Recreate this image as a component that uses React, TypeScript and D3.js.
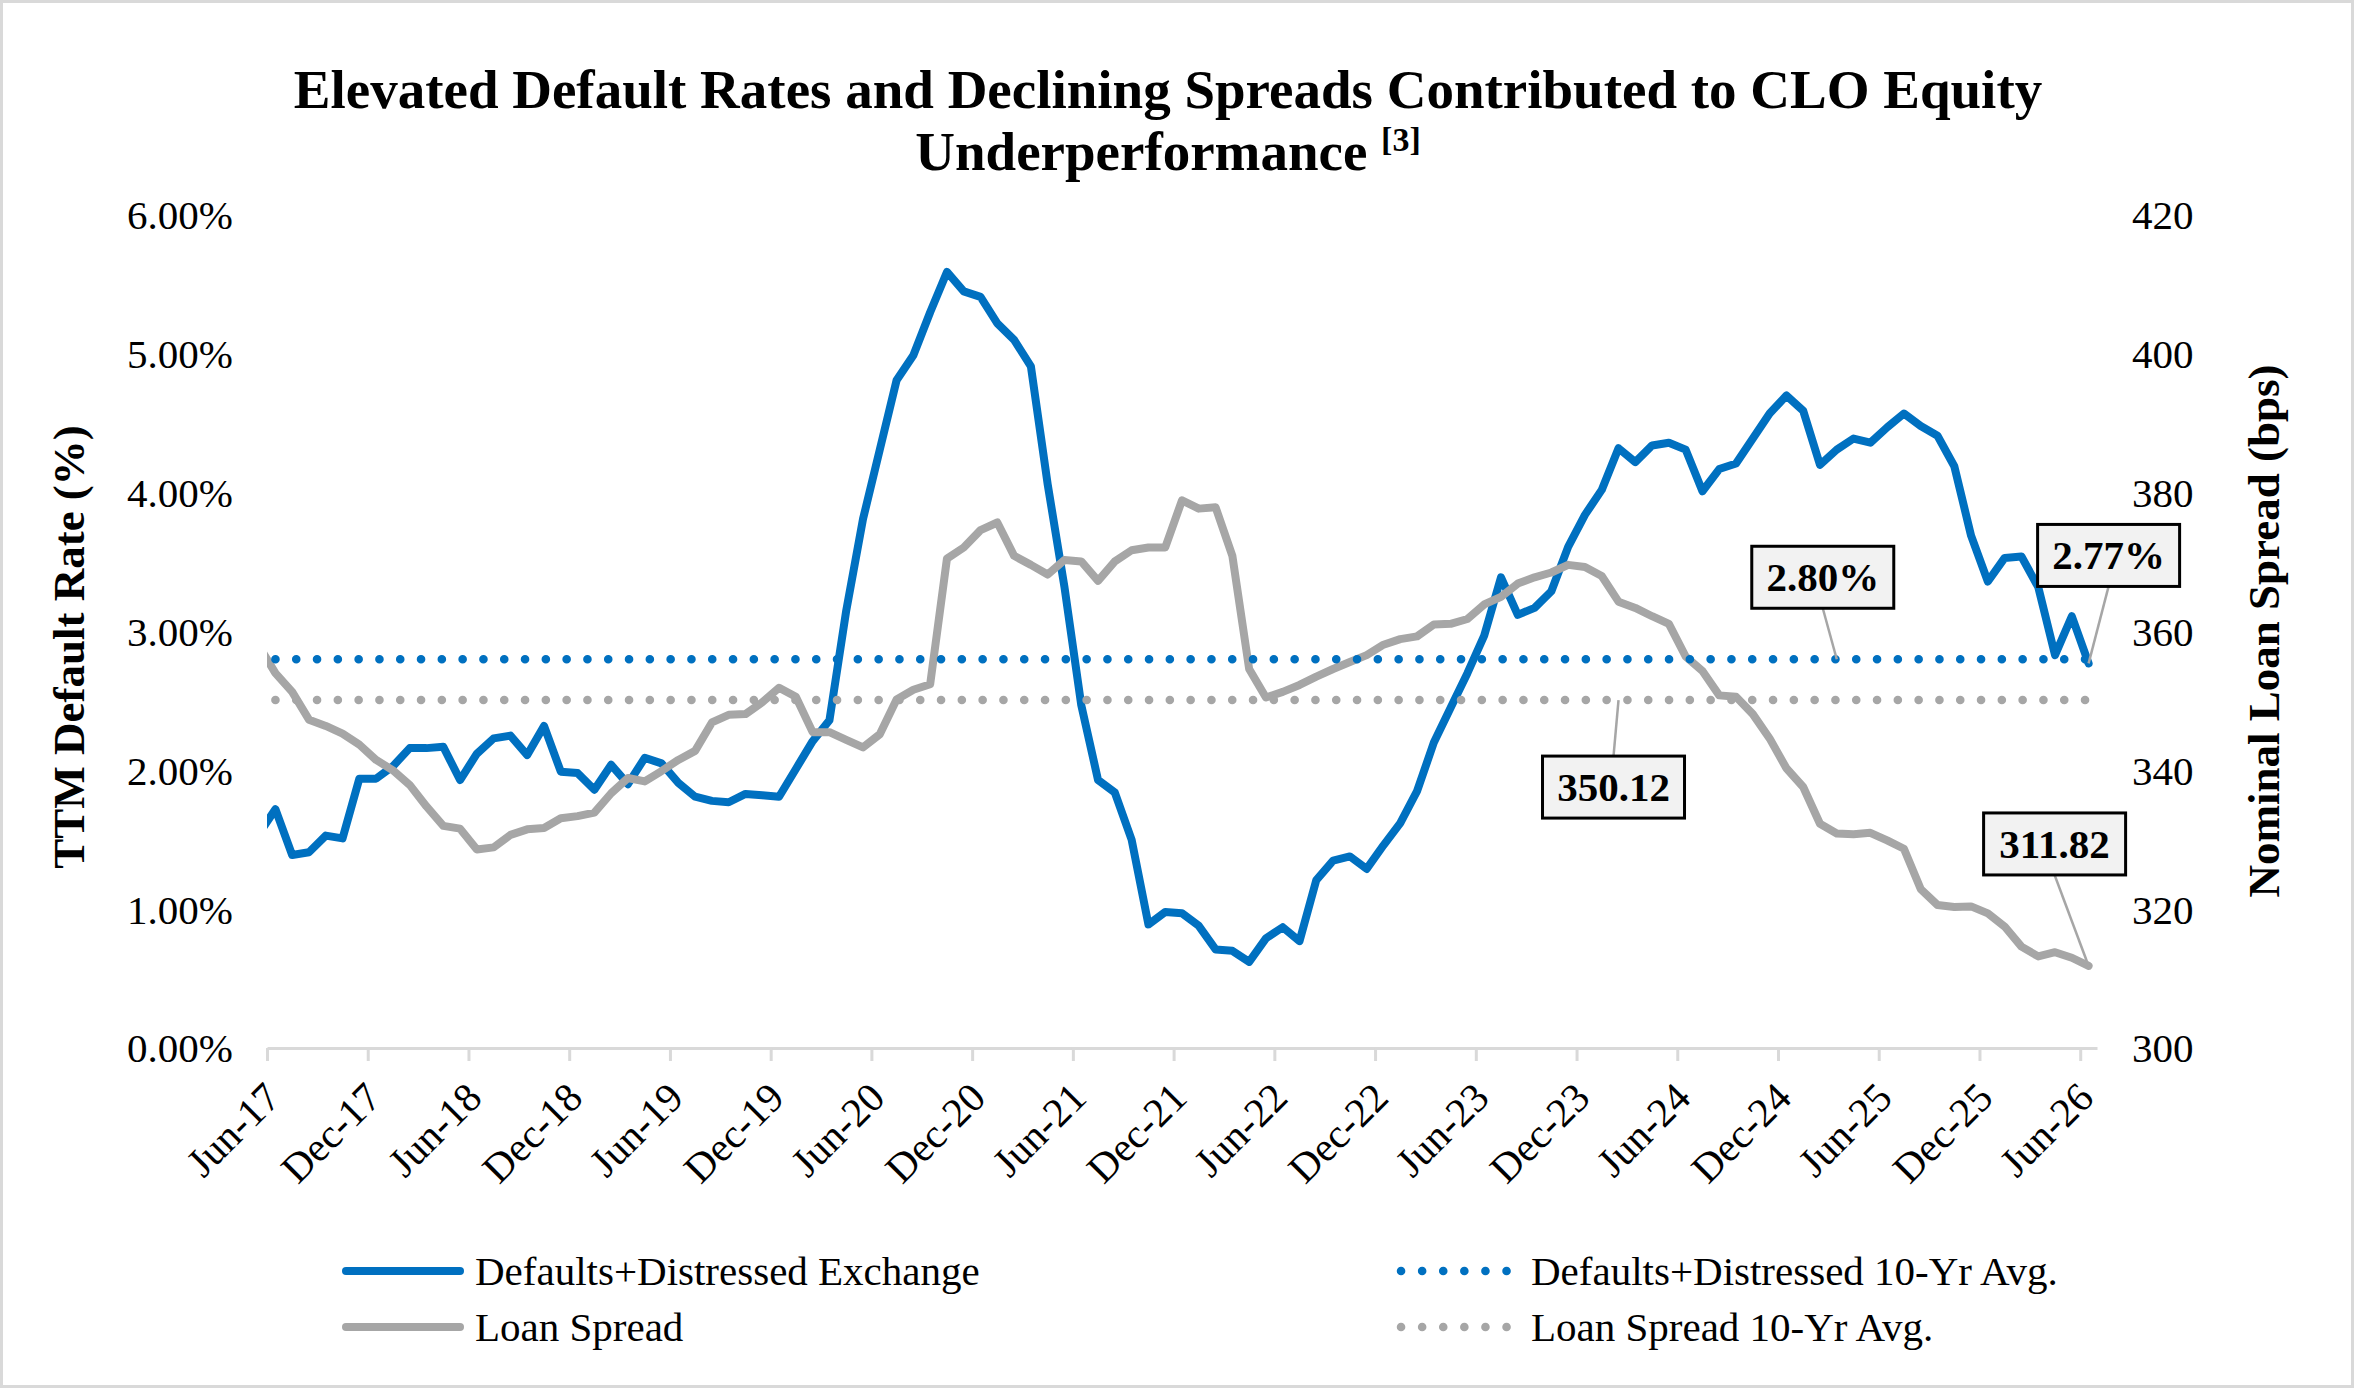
import React from 'react';
import { select, scaleLinear, line, axisLeft, axisRight, axisBottom, range } from 'd3';

// monthly points, May-17 (clipped at the axis start) through Jun-26
const defaultRate = [
  1.54,
  1.72, 1.39, 1.41, 1.53, 1.51, 1.94, 1.94,
  2.03, 2.16, 2.16, 2.17, 1.93, 2.12, 2.23, 2.25, 2.11, 2.32, 1.99, 1.98,
  1.86, 2.04, 1.90, 2.09, 2.05, 1.91, 1.81, 1.78, 1.77, 1.83, 1.82, 1.81,
  2.01, 2.21, 2.36, 3.15, 3.81, 4.31, 4.81, 4.99, 5.30, 5.59, 5.45, 5.41,
  5.22, 5.10, 4.91, 4.06, 3.32, 2.47, 1.93, 1.84, 1.50, 0.89, 0.98, 0.97,
  0.88, 0.71, 0.70, 0.62, 0.79, 0.87, 0.77, 1.21, 1.35, 1.38, 1.29, 1.46,
  1.62, 1.85, 2.20, 2.45, 2.70, 2.97, 3.39, 3.12, 3.17, 3.29, 3.61, 3.84,
  4.02, 4.32, 4.22, 4.34, 4.36, 4.31, 4.01, 4.17, 4.21, 4.39, 4.57, 4.70,
  4.59, 4.20, 4.31, 4.39, 4.36, 4.47, 4.57, 4.48, 4.41, 4.19, 3.69, 3.36,
  3.53, 3.54, 3.32, 2.83, 3.11, 2.77,
];

const loanSpread = [
  358.0,
  354.0, 351.3, 347.3, 346.4, 345.3, 343.7, 341.5,
  340.0, 337.9, 334.8, 332.0, 331.6, 328.6, 328.9, 330.7, 331.5, 331.7, 333.1, 333.4,
  333.9, 336.7, 338.9, 338.4, 339.9, 341.5, 342.8, 346.9, 348.0, 348.1, 349.8, 351.9,
  350.6, 345.5, 345.5, 344.4, 343.3, 345.2, 350.2, 351.6, 352.4, 370.5, 372.1, 374.6,
  375.7, 370.9, 369.6, 368.2, 370.3, 370.1, 367.3, 370.1, 371.7, 372.1, 372.1, 378.9,
  377.7, 377.9, 370.9, 354.6, 350.5, 351.3, 352.3, 353.5, 354.6, 355.6, 356.6, 358.1,
  358.9, 359.3, 361.0, 361.1, 361.8, 363.9, 365.0, 366.9, 367.8, 368.5, 369.6, 369.3,
  368.0, 364.3, 363.4, 362.2, 361.1, 356.4, 354.3, 350.8, 350.6, 348.1, 344.6, 340.3,
  337.6, 332.3, 330.9, 330.8, 331.0, 329.9, 328.7, 322.9, 320.6, 320.3, 320.4, 319.4,
  317.5, 314.6, 313.2, 313.8, 313.0, 311.82,
];

const defaultAvg = 2.80;
const spreadAvg = 350.12;

const tickLabels = [
  'Jun-17', 'Dec-17', 'Jun-18', 'Dec-18', 'Jun-19', 'Dec-19', 'Jun-20', 'Dec-20', 'Jun-21', 'Dec-21',
  'Jun-22', 'Dec-22', 'Jun-23', 'Dec-23', 'Jun-24', 'Dec-24', 'Jun-25', 'Dec-25', 'Jun-26',
];
const pctTicks = [0, 1, 2, 3, 4, 5, 6];
const bpsTicks = [300, 320, 340, 360, 380, 400, 420];

const legendItems = [
  { name: 'Defaults+Distressed Exchange', color: '#0070C0', dotted: false },
  { name: 'Loan Spread', color: '#A6A6A6', dotted: false },
  { name: 'Defaults+Distressed 10-Yr Avg.', color: '#0070C0', dotted: true },
  { name: 'Loan Spread 10-Yr Avg.', color: '#A6A6A6', dotted: true },
];

const W = 2354;
const H = 1388;
const FONT = '"Liberation Serif", "Times New Roman", serif';
const BLUE = '#0070C0';
const GREY = '#A6A6A6';
const DOTS = '0.1 20.7';

const App: React.FC = () => {
  const svgRef = React.useRef<SVGSVGElement>(null);

  React.useEffect(() => {
    const svg = select(svgRef.current);
    svg.selectAll('*').remove();

    const left = 267, right = 2097, top = 215, bottom = 1048;
    const nMonths = 109;
    const x = scaleLinear().domain([0, nMonths]).range([left, right]);
    const yL = scaleLinear().domain([0, 6]).range([bottom, top]);
    const yR = scaleLinear().domain([300, 420]).range([bottom, top]);
    // series index j -> month position (index 0 is May-17, one month before the axis start)
    const mx = (j: number) => x(j - 0.5);

    svg.append('rect')
      .attr('x', 1.5).attr('y', 1.5).attr('width', W - 3).attr('height', H - 3)
      .attr('fill', '#fff').attr('stroke', '#D9D9D9').attr('stroke-width', 3);

    // title
    const title = svg.append('text')
      .attr('text-anchor', 'middle').attr('font-family', FONT).attr('font-weight', 'bold')
      .attr('font-size', 55).attr('fill', '#000');
    title.append('tspan').attr('x', 1168).attr('y', 108)
      .text('Elevated Default Rates and Declining Spreads Contributed to CLO Equity');
    const t2 = title.append('tspan').attr('x', 1168).attr('y', 170);
    t2.append('tspan').text('Underperformance ');
    t2.append('tspan').attr('font-size', 34).attr('dy', -19).text('[3]');

    // x axis
    const xAxis = axisBottom(x)
      .tickValues(range(0, nMonths, 6))
      .tickFormat((d, i) => tickLabels[i])
      .tickSize(13).tickSizeOuter(0);
    const gx = svg.append('g').attr('transform', `translate(0, ${bottom})`).call(xAxis);
    gx.select('.domain').attr('stroke', '#D9D9D9').attr('stroke-width', 3);
    gx.selectAll('.tick line').attr('stroke', '#D9D9D9').attr('stroke-width', 3);
    gx.selectAll('.tick text')
      .attr('x', 0).attr('y', 0).attr('dy', null)
      .attr('text-anchor', 'end')
      .attr('transform', 'translate(15, 52) rotate(-45)')
      .attr('font-family', FONT).attr('font-size', 41).attr('fill', '#000');

    // y axes
    const gl = svg.append('g').attr('transform', `translate(${left}, 0)`)
      .call(axisLeft(yL).tickValues(pctTicks).tickFormat(d => `${(+d).toFixed(2)}%`).tickSize(0).tickPadding(34));
    const gr = svg.append('g').attr('transform', `translate(${right}, 0)`)
      .call(axisRight(yR).tickValues(bpsTicks).tickFormat(d => `${d}`).tickSize(0).tickPadding(35));
    [gl, gr].forEach(g => {
      g.select('.domain').remove();
      g.selectAll('.tick text').attr('dy', '0.34em')
        .attr('font-family', FONT).attr('font-size', 41).attr('fill', '#000');
    });

    svg.append('text')
      .attr('transform', 'translate(69, 647) rotate(-90)')
      .attr('text-anchor', 'middle').attr('dy', '0.34em')
      .attr('font-family', FONT).attr('font-weight', 'bold').attr('font-size', 45)
      .text('TTM Default Rate (%)');
    svg.append('text')
      .attr('transform', 'translate(2264, 631) rotate(-90)')
      .attr('text-anchor', 'middle').attr('dy', '0.34em')
      .attr('font-family', FONT).attr('font-weight', 'bold').attr('font-size', 45)
      .text('Nominal Loan Spread (bps)');

    // lines
    svg.append('clipPath').attr('id', 'plotClip')
      .append('rect').attr('x', left).attr('y', 0).attr('width', right - left).attr('height', H);
    const plot = svg.append('g').attr('clip-path', 'url(#plotClip)');

    const defLine = line<number>().x((d, j) => mx(j)).y(d => yL(d));
    const sprLine = line<number>().x((d, j) => mx(j)).y(d => yR(d));

    plot.append('path').attr('d', defLine(defaultRate))
      .attr('fill', 'none').attr('stroke', BLUE).attr('stroke-width', 8)
      .attr('stroke-linejoin', 'round').attr('stroke-linecap', 'round');
    plot.append('path').attr('d', sprLine(loanSpread))
      .attr('fill', 'none').attr('stroke', GREY).attr('stroke-width', 8)
      .attr('stroke-linejoin', 'round').attr('stroke-linecap', 'round');

    // 10-yr averages over the Jun-17..Jun-26 points
    const avgIdx = range(1, defaultRate.length);
    const avgDef = line<number>().x(j => mx(j)).y(() => yL(defaultAvg));
    const avgSpr = line<number>().x(j => mx(j)).y(() => yR(spreadAvg));
    plot.append('path').attr('d', avgDef(avgIdx))
      .attr('fill', 'none').attr('stroke', BLUE).attr('stroke-width', 8.5)
      .attr('stroke-dasharray', DOTS).attr('stroke-linecap', 'round');
    plot.append('path').attr('d', avgSpr(avgIdx))
      .attr('fill', 'none').attr('stroke', GREY).attr('stroke-width', 8.5)
      .attr('stroke-dasharray', DOTS).attr('stroke-linecap', 'round');

    // callouts
    const last = defaultRate.length - 1;
    const callouts = [
      { label: '2.80%', px: mx(94), py: yL(defaultAvg), dx: -14, dy: -82 },
      { label: '350.12', px: mx(81), py: yR(spreadAvg), dx: -5, dy: 87 },
      { label: '2.77%', px: mx(last), py: yL(defaultRate[last]), dx: 20, dy: -108 },
      { label: '311.82', px: mx(last), py: yR(loanSpread[last]), dx: -34, dy: -122 },
    ];
    const bw = 142, bh = 62;
    callouts.forEach(c => {
      const cx = c.px + c.dx, cy = c.py + c.dy;
      const edgeY = c.dy < 0 ? cy + bh / 2 : cy - bh / 2;
      svg.append('line')
        .attr('x1', cx).attr('y1', edgeY).attr('x2', c.px).attr('y2', c.py)
        .attr('stroke', GREY).attr('stroke-width', 2.5);
      svg.append('rect')
        .attr('x', cx - bw / 2).attr('y', cy - bh / 2).attr('width', bw).attr('height', bh)
        .attr('fill', '#F2F2F2').attr('stroke', '#000').attr('stroke-width', 3);
      svg.append('text')
        .attr('x', cx).attr('y', cy).attr('dy', '0.34em').attr('text-anchor', 'middle')
        .attr('font-family', FONT).attr('font-weight', 'bold').attr('font-size', 41)
        .text(c.label);
    });

    // legend
    const cols = [342, 1400];
    const rows = [1271, 1327];
    legendItems.forEach((item, i) => {
      const lx = cols[Math.floor(i / 2)];
      const ly = rows[i % 2];
      const g = svg.append('g');
      g.append('line')
        .attr('x1', item.dotted ? lx + 1 : lx + 4).attr('x2', item.dotted ? lx + 108 : lx + 118)
        .attr('y1', ly).attr('y2', ly)
        .attr('stroke', item.color).attr('stroke-width', item.dotted ? 8.5 : 8)
        .attr('stroke-linecap', 'round')
        .attr('stroke-dasharray', item.dotted ? '0.1 21' : null);
      g.append('text')
        .attr('x', item.dotted ? 1531 : 475).attr('y', ly).attr('dy', '0.34em')
        .attr('font-family', FONT).attr('font-size', 41).attr('fill', '#000')
        .text(item.name);
    });
  }, []);

  return (
    <div style={{ position: 'absolute', left: 0, top: 0 }}>
      <svg ref={svgRef} width={W} height={H} style={{ display: 'block' }}></svg>
    </div>
  );
};

export default App;
